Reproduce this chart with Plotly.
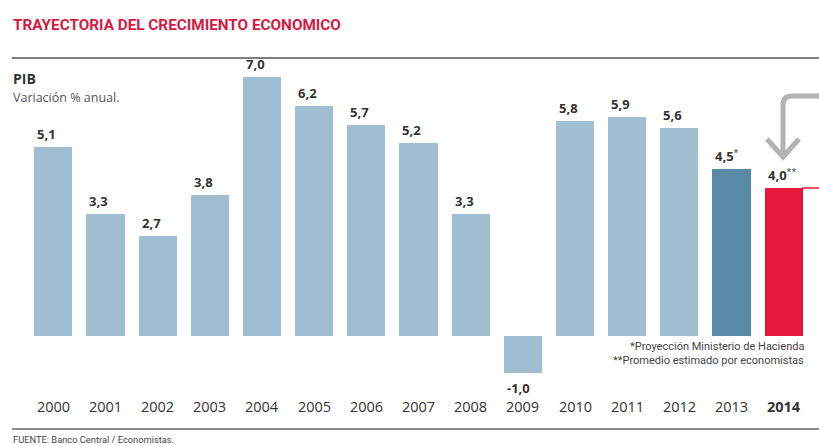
import plotly.graph_objects as go

# ---- data ----
years = [2000, 2001, 2002, 2003, 2004, 2005, 2006, 2007, 2008, 2009, 2010, 2011, 2012, 2013, 2014]
values = [5.1, 3.3, 2.7, 3.8, 7.0, 6.2, 5.7, 5.2, 3.3, -1.0, 5.8, 5.9, 5.6, 4.5, 4.0]
value_marks = ["", "", "", "", "", "", "", "", "", "", "", "", "", "*", "**"]
bar_colors = ["#a0bfd3"] * 13 + ["#5a8ba6", "#e8183c"]

title = "TRAYECTORIA DEL CRECIMIENTO ECONOMICO"
subtitle_main = "PIB"
subtitle_sub = "Variación % anual."
notes = ["*Proyección Ministerio de Hacienda", "**Promedio estimado por economistas"]
source = "FUENTE: Banco Central / Economistas."

# ---- layout geometry (pixels) ----
W, H = 819, 445
L, R, T, B = 22, 4, 60, 16
x_range = [1999.4, 2014.6]
zero_px, unit_px = 336, 37.06
y_range = [-(H - B - zero_px) / unit_px, (zero_px - T) / unit_px]
bar_w = 0.73

plot_w = W - L - R
plot_h = H - T - B


def px(x):
    return (x - L) / plot_w


def py(y):
    return (H - B - y) / plot_h


def fmt(v):
    return f"{v:.1f}".replace(".", ",")


fig = go.Figure(go.Bar(
    x=years, y=values, width=bar_w, marker=dict(color=bar_colors, line=dict(width=0)),
    hoverinfo="skip",
))

annotations = []
# value labels
for yr, v, m in zip(years, values, value_marks):
    label = "<b>" + fmt(v) + "</b>" + (f"<sup>{m}</sup>" if m else "")
    annotations.append(dict(
        x=yr - bar_w / 2, y=v, xref="x", yref="y", text=label, showarrow=False,
        xanchor="left", yanchor="bottom" if v >= 0 else "top",
        xshift=1, yshift=2 if v >= 0 else -4,
        font=dict(family="Open Sans", size=13, color="#333333"),
    ))
# year labels
for yr in years:
    txt = f"<b>{yr}</b>" if yr == years[-1] else str(yr)
    annotations.append(dict(
        x=yr, y=py(406), xref="x", yref="paper", text=txt, showarrow=False,
        xanchor="center", yanchor="middle",
        font=dict(family="Open Sans", size=14.5, color="#333333"),
    ))
# title and subtitles
annotations += [
    dict(x=px(11), y=py(25), xref="paper", yref="paper", text=f"<b>{title}</b>", showarrow=False,
         xanchor="left", yanchor="middle", font=dict(family="Roboto", size=15.3, color="#d41a44")),
    dict(x=px(11), y=py(79), xref="paper", yref="paper", text=f"<b>{subtitle_main}</b>", showarrow=False,
         xanchor="left", yanchor="middle", font=dict(family="Open Sans", size=14, color="#333333")),
    dict(x=px(11), y=py(97), xref="paper", yref="paper", text=subtitle_sub, showarrow=False,
         xanchor="left", yanchor="middle", font=dict(family="Open Sans", size=12.5, color="#555555")),
    dict(x=px(806), y=py(346), xref="paper", yref="paper", text=notes[0], showarrow=False,
         xanchor="right", yanchor="middle", font=dict(family="Roboto", size=11, color="#444444")),
    dict(x=px(806), y=py(360), xref="paper", yref="paper", text=notes[1], showarrow=False,
         xanchor="right", yanchor="middle", font=dict(family="Roboto", size=11, color="#444444")),
    dict(x=px(11), y=py(439), xref="paper", yref="paper", text=source, showarrow=False,
         xanchor="left", yanchor="middle", font=dict(family="Roboto", size=9.3, color="#444444")),
]

shapes = [
    # top rule
    dict(type="line", xref="paper", yref="paper", x0=px(12), x1=px(W), y0=py(58), y1=py(58),
         line=dict(color="#555555", width=1.5)),
    # bottom rule
    dict(type="line", xref="paper", yref="paper", x0=px(12), x1=px(W), y0=py(429), y1=py(429),
         line=dict(color="#666666", width=1.5)),
    # red line from last bar
    dict(type="line", xref="paper", yref="paper", x0=px(802), x1=px(W), y0=py(188), y1=py(188),
         line=dict(color="#e8183c", width=1.5)),
    # gray bent arrow shaft
    dict(type="path", xref="paper", yref="paper",
         path=(f"M {px(W+2)},{py(96)} L {px(792)},{py(96)} "
               f"Q {px(783)},{py(96)} {px(783)},{py(105)} L {px(783)},{py(156)}"),
         line=dict(color="#b2b2b2", width=5)),
    # arrow head
    dict(type="path", xref="paper", yref="paper",
         path=f"M {px(767)},{py(139)} L {px(783)},{py(157)} L {px(799)},{py(139)}",
         line=dict(color="#b2b2b2", width=5)),
]

fig.update_layout(
    width=W, height=H, margin=dict(l=L, r=R, t=T, b=B),
    paper_bgcolor="white", plot_bgcolor="white",
    showlegend=False, bargap=0,
    xaxis=dict(range=x_range, visible=False, fixedrange=True),
    yaxis=dict(range=y_range, visible=False, fixedrange=True),
    annotations=annotations, shapes=shapes,
)
fig.write_html("out.html")
